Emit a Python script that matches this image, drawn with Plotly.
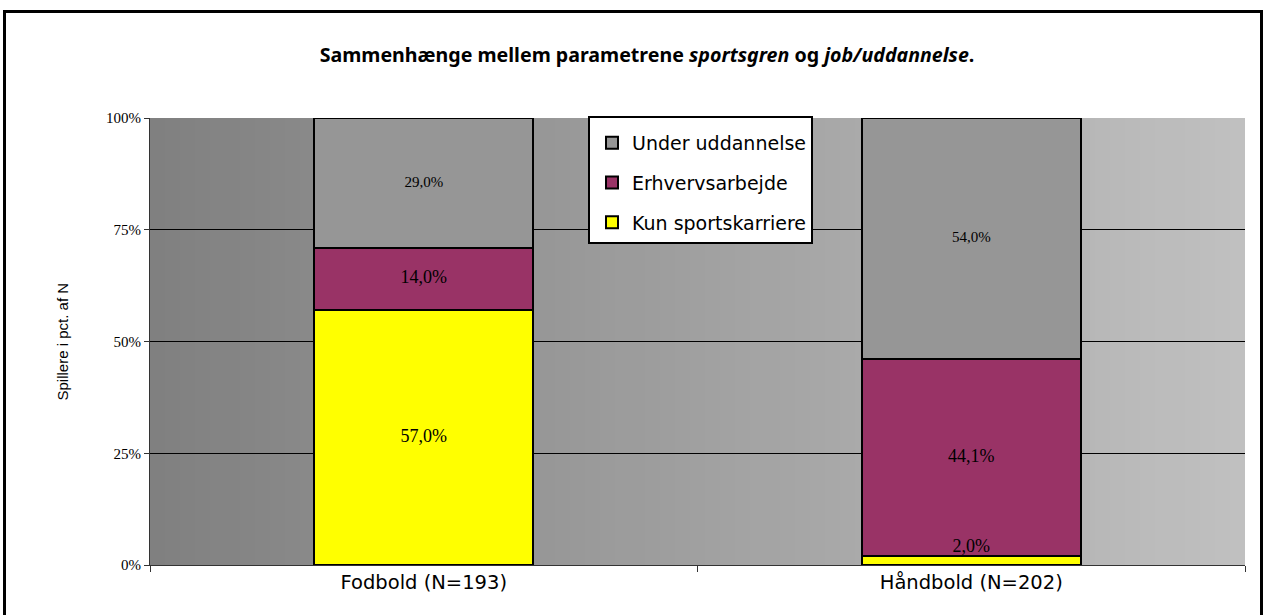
import plotly.graph_objects as go

categories = ["Fodbold (N=193)", "Håndbold (N=202)"]
series_names = ["Kun sportskarriere", "Erhvervsarbejde", "Under uddannelse"]
kun_sport = [57.0, 2.0]
erhverv = [14.0, 44.1]
uddannelse = [29.0, 54.0]
label_texts = [["57,0%", "2,0%"], ["14,0%", "44,1%"], ["29,0%", "54,0%"]]
y_ticks = [0, 25, 50, 75, 100]
y_ticklabels = ["0%", "25%", "50%", "75%", "100%"]

colors = ["#ffff00", "#993366", "#969696"]
label_sizes = [18, 18, 15]
series_values = [kun_sport, erhverv, uddannelse]

W, H = 1265, 615
ML, MR, MT, MB = 150, 20, 118, 50
PW, PH = W - ML - MR, H - MT - MB


def px_x(X):  # page pixel -> paper x
    return (X - ML) / PW


def px_y(Y):  # page pixel -> paper y
    return (H - MB - Y) / PH


fig = go.Figure()
for rank, (name, vals, col) in enumerate(zip(series_names, series_values, colors)):
    fig.add_trace(go.Bar(
        x=categories, y=vals, name=name, width=0.4,
        marker=dict(color=col, line=dict(color="black", width=2)),
        legendgroup=name, legendrank=3 - rank, hoverinfo="skip",
    ))

# label positions (centre of each normalised segment)
totals = [sum(v[i] for v in series_values) for i in range(len(categories))]
lx, ly, lt, lpos, lsz = [], [], [], [], []
for i, cat in enumerate(categories):
    cum = 0.0
    for s, vals in enumerate(series_values):
        v = vals[i] / totals[i] * 100
        lx.append(cat); lt.append(label_texts[s][i]); lsz.append(label_sizes[s])
        if v < 5:
            ly.append(cum + v); lpos.append("top center")
        else:
            ly.append(cum + v / 2); lpos.append("middle center")
        cum += v
fig.add_trace(go.Scatter(
    x=lx, y=ly, text=lt, mode="text", textposition=lpos,
    textfont=dict(family="Liberation Serif", size=lsz, color="black"),
    showlegend=False, hoverinfo="skip", cliponaxis=False,
))

# gradient background bands
shapes = []
nb = 73
for k in range(nb):
    c = int(round(128 + (192 - 128) * k / (nb - 1)))
    shapes.append(dict(type="rect", xref="paper", yref="paper",
                       x0=k / nb, x1=min(1.0, (k + 1) / nb + 0.004), y0=0, y1=1,
                       fillcolor=f"rgb({c},{c},{c})", line=dict(width=0), layer="below"))
# legend box
shapes.append(dict(type="rect", xref="paper", yref="paper",
                   x0=px_x(589), x1=px_x(812), y0=px_y(243), y1=px_y(117),
                   fillcolor="white", line=dict(color="black", width=2), layer="above"))
# outer figure border
shapes.append(dict(type="rect", xref="paper", yref="paper",
                   x0=px_x(4.5), x1=px_x(1261.5), y0=px_y(640), y1=px_y(11.5),
                   line=dict(color="black", width=3), fillcolor="rgba(0,0,0,0)", layer="above"))

fig.update_layout(
    width=W, height=H,
    margin=dict(l=ML, r=MR, t=MT, b=MB),
    barmode="stack", barnorm="percent", bargap=0.6,
    paper_bgcolor="white", plot_bgcolor="rgba(0,0,0,0)",
    shapes=shapes,
    showlegend=True,
    legend=dict(x=px_x(592), y=px_y(124), xanchor="left", yanchor="top",
                bgcolor="rgba(0,0,0,0)", borderwidth=0,
                font=dict(family="DejaVu Sans", size=19, color="black"),
                traceorder="grouped", tracegroupgap=12),
    title=dict(text="<b>Sammenhænge mellem parametrene <i>sportsgren</i> og <i>job/uddannelse</i>.</b>",
               x=647 / W, xref="container", xanchor="center",
               y=1 - 55 / H, yref="container", yanchor="middle",
               font=dict(family="Noto Sans", size=19.6, color="black")),
    xaxis=dict(showline=True, linecolor="#333333", linewidth=1,
               ticks="outside", tickson="boundaries", ticklen=6, tickcolor="#333333",
               tickfont=dict(family="DejaVu Sans", size=19.5, color="black"),
               showgrid=False),
    yaxis=dict(range=[0, 100], tickvals=y_ticks, ticktext=y_ticklabels,
               showline=True, linecolor="#333333", linewidth=1,
               ticks="outside", ticklen=5, tickcolor="#333333",
               tickfont=dict(family="Liberation Serif", size=15, color="black"),
               showgrid=True, gridcolor="black", gridwidth=1, zeroline=False),
    annotations=[dict(text="Spillere i pct. af N", xref="paper", yref="paper",
                      x=px_x(62), y=0.5, xanchor="center", yanchor="middle",
                      textangle=-90, showarrow=False,
                      font=dict(family="Liberation Sans", size=15, color="black"))],
)

fig.write_html(
    "out.html",
    config={"displayModeBar": False},
    post_script="document.body.style.margin='0';document.body.style.overflow='hidden';",
)
